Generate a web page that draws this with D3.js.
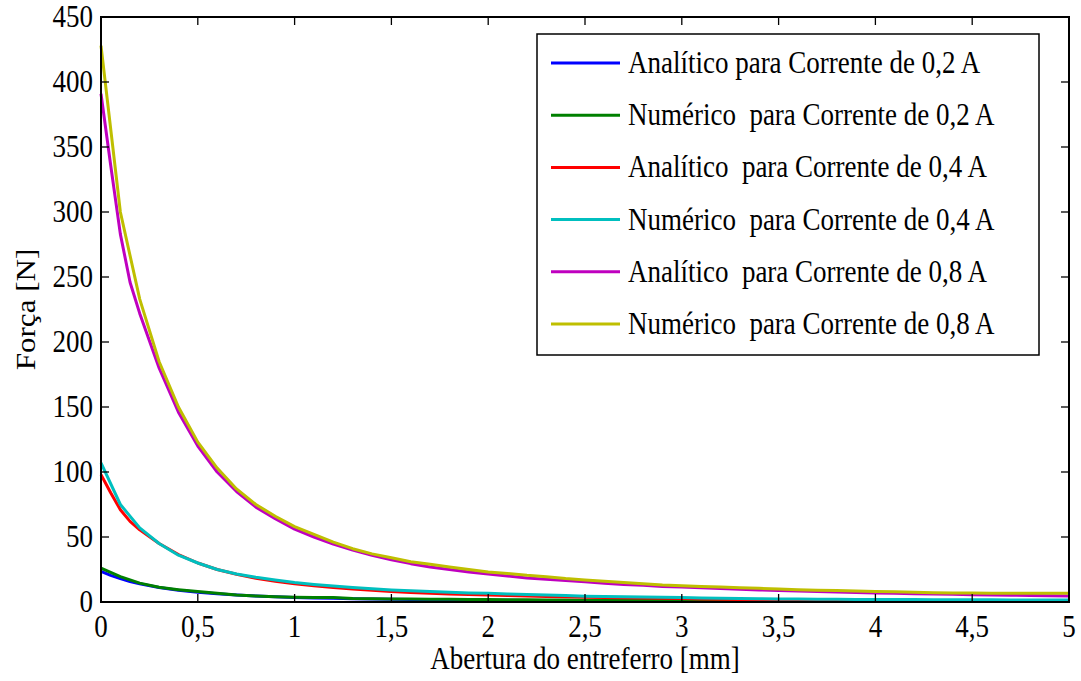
<!DOCTYPE html>
<html>
<head>
<meta charset="utf-8">
<script src="https://cdn.jsdelivr.net/npm/d3@7"></script>
<style>
  html, body { margin: 0; padding: 0; background: #fff; }
  svg { display: block; }
  text { font-family: "Liberation Serif", "Times New Roman", serif; fill: #000; }
</style>
</head>
<body>
<div id="chart"></div>
<script>
'use strict'

// gap values [mm]
var gapNumeric = [0, 0.1, 0.2, 0.3, 0.4, 0.5, 0.6, 0.7, 0.8, 0.9,
  1, 1.1, 1.2, 1.3, 1.4, 1.5, 1.6, 1.7, 1.8, 1.9,
  2, 2.1, 2.2, 2.3, 2.4, 2.5, 2.6, 2.7, 2.8, 2.9,
  3, 3.1, 3.2, 3.3, 3.4, 3.5, 3.6, 3.7, 3.8, 3.9,
  4, 4.1, 4.2, 4.3, 4.4, 4.5, 4.6, 4.7, 4.8, 4.9, 5]
var gapAnalytic = [0, 0.05, 0.1, 0.15, 0.2, 0.3, 0.4, 0.5, 0.6, 0.7, 0.8, 0.9,
  1, 1.1, 1.2, 1.3, 1.4, 1.5, 1.6, 1.7, 1.8, 1.9,
  2, 2.1, 2.2, 2.3, 2.4, 2.5, 2.6, 2.7, 2.8, 2.9,
  3, 3.1, 3.2, 3.3, 3.4, 3.5, 3.6, 3.7, 3.8, 3.9,
  4, 4.1, 4.2, 4.3, 4.4, 4.5, 4.6, 4.7, 4.8, 4.9, 5]

// force [N]
var analitico02 = [23.5, 20.5, 18, 15.8, 14, 11.2, 9.1, 7.5, 6.3, 5.3, 4.6, 4,
  3.5, 3.1, 2.8, 2.5, 2.3, 2.1, 1.9, 1.7, 1.6, 1.5,
  1.4, 1.3, 1.2, 1.1, 1.05, 1, 0.95, 0.9, 0.85, 0.8,
  0.75, 0.7, 0.67, 0.63, 0.6, 0.57, 0.54, 0.52, 0.5, 0.48,
  0.46, 0.44, 0.42, 0.4, 0.38, 0.36, 0.35, 0.33, 0.32, 0.31, 0.3]
var numerico02 = [26, 19.5, 14.5, 11.3, 9.5, 8, 6.8, 5.4, 4.6, 4,
  3.6, 3.5, 3.4, 2.6, 2.5, 2.4, 2.3, 2.2, 2.1, 2,
  1.9, 1.8, 1.7, 1.6, 1.5, 1.4, 1.3, 1.3, 1.2, 1.2,
  1.1, 1.1, 1, 1, 1, 0.9, 0.9, 0.9, 0.9, 0.8,
  0.8, 0.8, 0.8, 0.8, 0.8, 0.8, 0.8, 0.8, 0.8, 0.8, 0.8]
var analitico04 = [98, 84, 71, 62, 55.5, 45, 36.5, 30, 25, 21.3, 18.3, 16,
  14, 12.5, 11.1, 10, 9, 8.1, 7.4, 6.8, 6.2, 5.8,
  5.4, 5, 4.6, 4.3, 4, 3.7, 3.4, 3.2, 3, 2.8,
  2.6, 2.4, 2.2, 2, 1.8, 1.7, 1.6, 1.5, 1.4, 1.3,
  1.2, 1.1, 1, 0.9, 0.8, 0.6, 0.4, 0.3, 0.3, 0.3, 0.3]
var numerico04 = [107, 75, 57, 45, 36, 30, 25, 21.5, 19, 17,
  15, 13.5, 12.3, 11.2, 10.2, 9.3, 8.6, 8, 7.5, 7,
  6.7, 6.2, 5.8, 5.4, 5, 4.5, 4.2, 4, 3.8, 3.6,
  3.4, 3.1, 2.8, 2.6, 2.5, 2.4, 2.3, 2.2, 2.1, 2,
  2, 1.9, 1.9, 1.8, 1.8, 1.7, 1.7, 1.6, 1.6, 1.5, 1.5]
var analitico08 = [391, 336, 283, 246, 222, 180, 146, 120, 100, 85, 73, 64,
  56, 50, 44.5, 40, 36, 32.5, 29.5, 27, 25, 23,
  21.5, 20, 18.5, 17.5, 16.5, 15.5, 14.5, 13.5, 12.8, 12,
  11.5, 11, 10.3, 9.8, 9.3, 8.8, 8.4, 8, 7.6, 7.3,
  7, 6.7, 6.4, 6.1, 5.9, 5.6, 5.4, 5.2, 5, 4.8, 4.6]
var numerico08 = [428, 300, 233, 185, 150, 123, 103, 87, 75, 66,
  58, 52, 46, 41, 37, 34, 31, 29, 27, 25,
  23, 22, 20.5, 19.5, 18, 17, 16, 15, 14, 13,
  12.5, 12, 11.5, 11, 10.5, 10, 9.5, 9, 8.8, 8.5,
  8, 7.8, 7.5, 7.2, 7, 7, 6.8, 6.7, 6.7, 6.7, 6.7]

var legendLabels = [
  'Analítico para Corrente de 0,2 A',
  'Numérico  para Corrente de 0,2 A',
  'Analítico  para Corrente de 0,4 A',
  'Numérico  para Corrente de 0,4 A',
  'Analítico  para Corrente de 0,8 A',
  'Numérico  para Corrente de 0,8 A'
]
var seriesColors = ['#0000ff', '#008000', '#ff0000', '#00bfbf', '#bf00bf', '#bfbf00']

var xTickValues = [0, 0.5, 1, 1.5, 2, 2.5, 3, 3.5, 4, 4.5, 5]
var xTickLabels = ['0', '0,5', '1', '1,5', '2', '2,5', '3', '3,5', '4', '4,5', '5']
var yTickValues = [0, 50, 100, 150, 200, 250, 300, 350, 400, 450]
var yTickLabels = ['0', '50', '100', '150', '200', '250', '300', '350', '400', '450']

var series = [
  { xs: gapAnalytic, ys: analitico02 },
  { xs: gapNumeric, ys: numerico02 },
  { xs: gapAnalytic, ys: analitico04 },
  { xs: gapNumeric, ys: numerico04 },
  { xs: gapAnalytic, ys: analitico08 },
  { xs: gapNumeric, ys: numerico08 }
]

// layout
var W = 1081, H = 681
var margin = { top: 17, right: 12, bottom: 79, left: 101 }
var width = W - margin.left - margin.right
var height = H - margin.top - margin.bottom
var fontSize = 27
var stretch = 1.15   // the original text is a bit taller than wide

var x = d3.scaleLinear().domain([0, 5]).range([0, width])
var y = d3.scaleLinear().domain([0, 450]).range([height, 0])

var svg = d3.select('#chart').append('svg')
  .attr('width', W)
  .attr('height', H)
var g = svg.append('g')
  .attr('transform', 'translate(' + margin.left + ',' + margin.top + ')')

// text helper, stretched vertically like the source
function label(parent, tx, ty, str, anchor, rot) {
  var t = 'translate(' + tx + ',' + ty + ')'
  t += rot ? ' rotate(-90) scale(' + stretch + ',1)' : ' scale(1,' + stretch + ')'
  return parent.append('text')
    .attr('transform', t)
    .attr('text-anchor', anchor)
    .style('font-size', fontSize + 'px')
    .style('white-space', 'pre')
    .text(str)
}

// curves
var line = d3.line()
  .x(function (d) { return x(d[0]) })
  .y(function (d) { return y(d[1]) })

series.forEach(function (s, i) {
  var pts = s.xs.map(function (v, k) { return [v, s.ys[k]] })
  g.append('path')
    .datum(pts)
    .attr('fill', 'none')
    .attr('stroke', seriesColors[i])
    .attr('stroke-width', 3)
    .attr('stroke-linejoin', 'round')
    .attr('d', line)
})

// ticks, inside on all four sides
var tickLen = 8
var ticks = g.append('g').attr('stroke', '#000').attr('stroke-width', 1.3)
xTickValues.forEach(function (v) {
  ticks.append('line').attr('x1', x(v)).attr('x2', x(v)).attr('y1', height).attr('y2', height - tickLen)
  ticks.append('line').attr('x1', x(v)).attr('x2', x(v)).attr('y1', 0).attr('y2', tickLen)
})
yTickValues.forEach(function (v) {
  ticks.append('line').attr('x1', 0).attr('x2', tickLen).attr('y1', y(v)).attr('y2', y(v))
  ticks.append('line').attr('x1', width).attr('x2', width - tickLen).attr('y1', y(v)).attr('y2', y(v))
})

// frame
g.append('rect')
  .attr('width', width)
  .attr('height', height)
  .attr('fill', 'none')
  .attr('stroke', '#000')
  .attr('stroke-width', 2)

// tick labels
xTickValues.forEach(function (v, i) {
  label(g, x(v), height + 35, xTickLabels[i], 'middle')
})
yTickValues.forEach(function (v, i) {
  label(g, -8, y(v) + 10, yTickLabels[i], 'end')
})

// axis titles
label(g, width / 2, height + 67, 'Abertura do entreferro [mm]', 'middle')
label(svg, 35, margin.top + height / 2, 'Força [N]', 'middle', true)

// legend
var lg = svg.append('g')
lg.append('rect')
  .attr('x', 537).attr('y', 34)
  .attr('width', 502).attr('height', 321)
  .attr('fill', '#fff')
  .attr('stroke', '#000')
  .attr('stroke-width', 1.5)
legendLabels.forEach(function (name, i) {
  var ly = 63 + i * 52.2
  lg.append('line')
    .attr('x1', 551).attr('x2', 620)
    .attr('y1', ly).attr('y2', ly)
    .attr('stroke', seriesColors[i])
    .attr('stroke-width', 3)
  label(lg, 628, ly + 10, name, 'start')
})
</script>
</body>
</html>
